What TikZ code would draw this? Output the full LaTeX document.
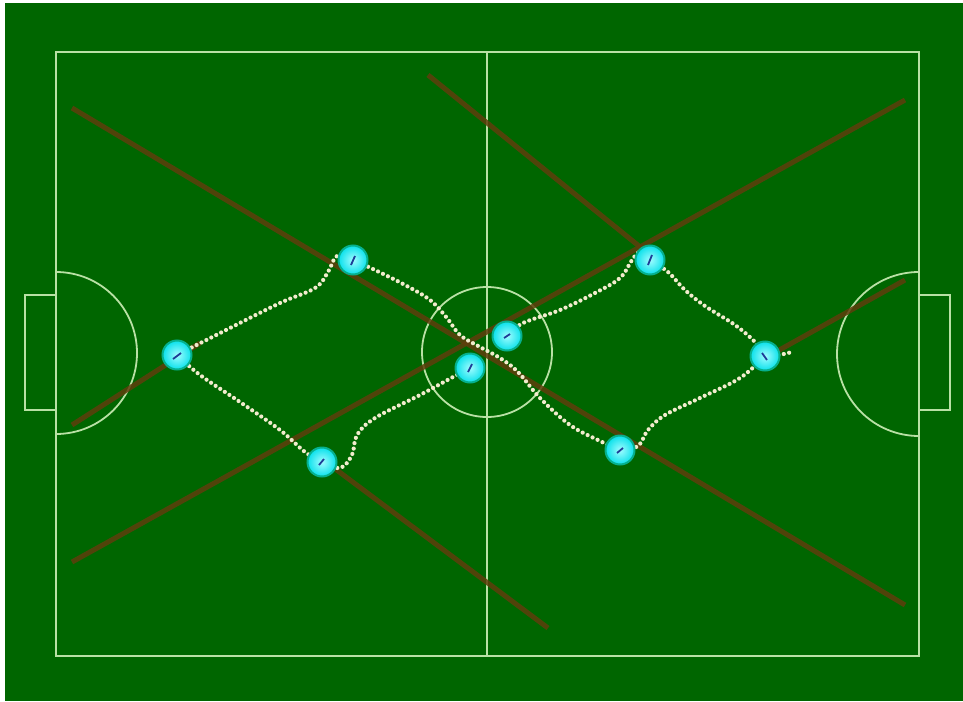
\documentclass[tikz,border=0pt]{standalone}
\definecolor{bg}{RGB}{0,102,0}
\definecolor{fieldc}{RGB}{185,225,165}
\definecolor{brownc}{RGB}{95,62,12}
\definecolor{trailc}{RGB}{242,236,205}
\definecolor{robotc}{RGB}{10,225,235}
\definecolor{robotcore}{RGB}{160,252,255}
\definecolor{markc}{RGB}{30,60,150}
\begin{document}
\begin{tikzpicture}[x=1pt,y=-1pt,
  fieldl/.style={draw=fieldc,line width=1.8pt},
  brownl/.style={draw=brownc,line width=5pt,opacity=0.85},
  trail/.style={draw=trailc,line width=4.2pt,dash pattern=on 0pt off 5.5pt,line cap=round},
  robot/.style={circle,minimum size=29pt,inner sep=0pt,shading=radial,inner color=robotcore,outer color=robotc,draw=robotc!60!bg,line width=2pt},
  markl/.style={draw=markc,line width=1.8pt}]
\useasboundingbox (0,0) rectangle (963,701);
\fill[white] (0,0) rectangle (963,701);
\fill[bg] (5,3) rectangle (963,701);
% field
\draw[fieldl] (56,52) rectangle (919,656);
\draw[fieldl] (487,52) -- (487,656);
\draw[fieldl] (487,352) circle (65);
\begin{scope}
  \clip (57,0) rectangle (200,701);
  \draw[fieldl] (56,353) circle (81);
\end{scope}
\begin{scope}
  \clip (780,0) rectangle (918,701);
  \draw[fieldl] (919,354) circle (82);
\end{scope}
\draw[fieldl] (25,295) rectangle (56,410);
\draw[fieldl] (919,295) rectangle (950,410);
% brown lines
\draw[brownl] (72,108) -- (905,605);
\draw[brownl] (72,562) -- (905,100);
\draw[brownl] (428,75) -- (650,255);
\draw[brownl] (330,465) -- (548,628);
\draw[brownl] (765,358) -- (905,280);
\draw[brownl] (72,425) -- (200,343);
% robot positions
\coordinate (r1) at (177,355);
\coordinate (r2) at (353,260);
\coordinate (r3) at (322,462);
\coordinate (r4) at (470,368);
\coordinate (r5) at (507,336);
\coordinate (r6) at (650,260);
\coordinate (r7) at (765,356);
\coordinate (r8) at (620,450);
\coordinate (tail) at (792,352);
% trails
\draw[trail] plot[smooth,tension=0.6] coordinates {(r1) (230,328) (280,303) (315,288) (328,272) (337,256) (r2)};
\draw[trail] plot[smooth,tension=0.6] coordinates {(r2) (375,270) (405,285) (430,300) (447,318) (460,335) (480,347) (500,358) (518,372) (540,398) (570,425) (600,441) (r8)};
\draw[trail] plot[smooth,tension=0.6] coordinates {(r1) (200,375) (240,402) (280,430) (305,452) (r3)};
\draw[trail] plot[smooth,tension=0.6] coordinates {(r3) (340,468) (352,455) (357,435) (375,418) (420,395) (453,377) (r4)};
\draw[trail] plot[smooth,tension=0.6] coordinates {(r5) (523,323) (560,310) (595,293) (620,278) (632,260) (640,252) (r6)};
\draw[trail] plot[smooth,tension=0.6] coordinates {(r6) (668,272) (685,290) (705,306) (735,325) (755,342) (r7) (tail)};
\draw[trail] plot[smooth,tension=0.6] coordinates {(r8) (638,446) (648,430) (665,415) (700,398) (740,378) (r7)};
% robots
\foreach \n in {1,...,8}{
  \node[robot] (R\n) at (r\n) {};
}
\draw[markl] ([shift={(-4,4)}]R1.center) -- ([shift={(4,-2)}]R1.center);
\draw[markl] ([shift={(-2,5)}]R2.center) -- ([shift={(2,-4)}]R2.center);
\draw[markl] ([shift={(-3,3)}]R3.center) -- ([shift={(2,-3)}]R3.center);
\draw[markl] ([shift={(-2,4)}]R4.center) -- ([shift={(2,-4)}]R4.center);
\draw[markl] ([shift={(-3,2)}]R5.center) -- ([shift={(3,-2)}]R5.center);
\draw[markl] ([shift={(-2,5)}]R6.center) -- ([shift={(2,-5)}]R6.center);
\draw[markl] ([shift={(-3,-3)}]R7.center) -- ([shift={(2,4)}]R7.center);
\draw[markl] ([shift={(-3,3)}]R8.center) -- ([shift={(3,-2)}]R8.center);
\end{tikzpicture}
\end{document}
